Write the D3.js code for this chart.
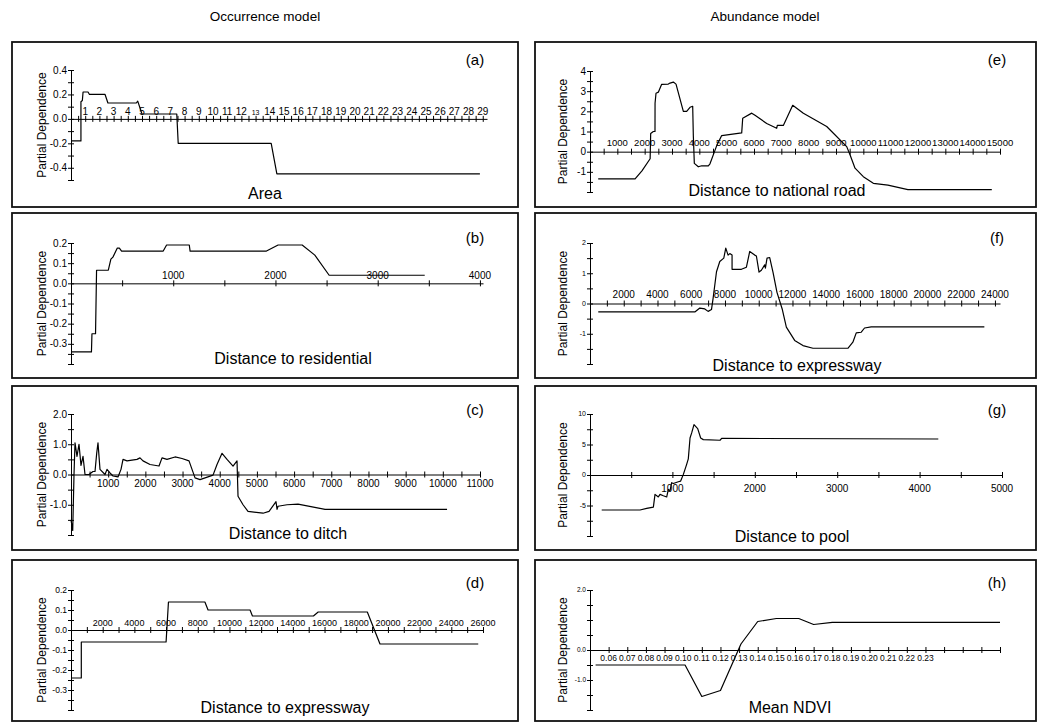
<!DOCTYPE html>
<html>
<head>
<meta charset="utf-8">
<script src="https://cdn.jsdelivr.net/npm/d3@7"></script>
<style>
  body { margin: 0; background: #fff; }
  svg { font-family: "Liberation Sans", Arial, sans-serif; }
</style>
</head>
<body>
<svg id="chart" width="1048" height="723"></svg>
<script>
// ---- data ----
const columnTitles = ["Occurrence model", "Abundance model"];
const yTitle = "Partial Dependence";

// (a) Area
const areaX = [0, 0.7, 0.7, 0.8, 0.85, 1.2, 1.3, 2.4, 2.6, 4.6, 4.7, 5.0, 7.45, 7.55, 14.1, 14.5, 28.8];
const areaY = [-0.18, -0.18, 0.14, 0.15, 0.22, 0.22, 0.20, 0.20, 0.13, 0.13, 0.145, 0.04, 0.04, -0.20, -0.20, -0.45, -0.45];
const areaTicks = d3.range(1, 30);

// (b) Distance to residential
const resX = [0, 200, 205, 240, 250, 365, 390, 410, 453, 473, 495, 902, 935, 1157, 1165, 1912, 2026, 2261, 2385, 2525, 3460];
const resY = [-0.34, -0.34, -0.25, -0.25, 0.065, 0.065, 0.12, 0.13, 0.175, 0.175, 0.16, 0.16, 0.19, 0.19, 0.16, 0.16, 0.19, 0.19, 0.14, 0.04, 0.04];
const resTicks = [1000, 2000, 3000, 4000];

// (c) Distance to ditch
const ditchX = [0, 46, 81, 108, 161, 215, 269, 323, 377, 484, 592, 646, 691, 726, 780, 915, 968, 1049, 1130, 1264, 1345, 1399, 1506, 1775, 1856, 1937, 2125, 2367, 2448, 2582, 2798, 2986, 3174, 3336, 3470, 3820, 3927, 4062, 4196, 4358, 4465, 4492, 4627, 4761, 5165, 5326, 5514, 5541, 5568, 5810, 6106, 6833, 10114];
const ditchY = [-1.5, -1.85, 0.0, 1.05, 0.6, 1.0, 0.3, 0.6, 0.0, 0.0, 0.1, 0.1, 0.7, 1.05, 0.17, 0.0, 0.17, 0.05, -0.05, -0.08, 0.17, 0.5, 0.45, 0.5, 0.55, 0.45, 0.33, 0.28, 0.55, 0.5, 0.58, 0.53, 0.45, -0.11, -0.17, -0.02, 0.33, 0.7, 0.5, 0.28, 0.45, -0.72, -1.0, -1.22, -1.28, -1.22, -0.9, -1.15, -1.05, -1.0, -0.98, -1.15, -1.15];
const ditchTicks = d3.range(1000, 11001, 1000);

// (d) Distance to expressway (occurrence)
const expOccX = [0, 650, 650, 6000, 6150, 8450, 8650, 11300, 11450, 15300, 15600, 18700, 19500, 25700];
const expOccY = [-0.24, -0.24, -0.06, -0.06, 0.14, 0.14, 0.10, 0.10, 0.07, 0.07, 0.09, 0.09, -0.07, -0.07];
const expOccTicks = d3.range(2000, 26001, 2000);

// (e) Distance to national road
const natX = [300, 1650, 1900, 2200, 2220, 2317, 2378, 2380, 2415, 2500, 2622, 2866, 2927, 3049, 3147, 3415, 3537, 3659, 3757, 3780, 3817, 3963, 4086, 4329, 4390, 4636, 4818, 5550, 5587, 5917, 6037, 6465, 6830, 6853, 7073, 7416, 7806, 8660, 9392, 9513, 9696, 10000, 10366, 10900, 11630, 14700];
const natY = [-1.35, -1.35, -0.95, -0.35, 0.9, 1.0, 1.0, 2.4, 2.9, 2.95, 3.34, 3.35, 3.4, 3.45, 3.35, 2.0, 2.0, 2.2, 2.25, 0.8, -0.58, -0.75, -0.7, -0.7, -0.6, 0.3, 0.8, 0.93, 1.66, 1.91, 1.8, 1.4, 1.16, 1.3, 1.3, 2.3, 1.9, 1.25, 0.25, -0.15, -0.82, -1.24, -1.57, -1.66, -1.88, -1.88];
const natTicks = d3.range(1000, 15001, 1000);

// (f) Distance to expressway (abundance)
const expAbX = [490, 6213, 6509, 6805, 7000, 7200, 7296, 7497, 7692, 7929, 8047, 8183, 8284, 8420, 8420, 8974, 9270, 9467, 9763, 9862, 10018, 10158, 10355, 10395, 10493, 10651, 10848, 11082, 11400, 11637, 12130, 12623, 13215, 15284, 15580, 15780, 16076, 16272, 16667, 23373];
const expAbY = [-0.28, -0.28, -0.15, -0.18, -0.26, -0.2, 0.17, 1.05, 1.39, 1.5, 1.83, 1.6, 1.65, 1.6, 1.13, 1.13, 1.2, 1.72, 1.6, 1.57, 1.04, 1.1, 1.28, 1.17, 1.5, 1.52, 1.03, 0.37, -0.2, -0.78, -1.22, -1.39, -1.48, -1.48, -1.28, -0.97, -0.95, -0.81, -0.77, -0.77];
const expAbTicks = d3.range(2000, 24001, 2000);

// (g) Distance to pool
const poolX = [142, 607, 688, 769, 789, 829, 850, 890, 931, 951, 971, 991, 1011, 1072, 1100, 1133, 1173, 1193, 1214, 1234, 1262, 1307, 1343, 1375, 1578, 1598, 4227];
const poolY = [-5.74, -5.74, -5.47, -5.26, -3.18, -3.6, -3.18, -3.4, -3.6, -2.36, -2.6, -1.26, -1.4, -1.1, -1.0, 0.1, 1.75, 2.65, 6.06, 6.9, 8.25, 7.6, 6.06, 5.8, 5.7, 6.0, 5.9];
const poolTicks = [1000, 2000, 3000, 4000, 5000];

// (h) Mean NDVI
const ndviX = [0.053, 0.101, 0.110, 0.120, 0.131, 0.140, 0.150, 0.162, 0.170, 0.180, 0.270];
const ndviY = [-0.5, -0.5, -1.55, -1.35, 0.2, 0.95, 1.05, 1.05, 0.85, 0.92, 0.92];
const ndviTicks = d3.range(6, 24).map(i => i / 100);

// ---- layout ----
const LEFT = { x: 12, w: 506, axis: 71, label: 475, ytitle: 42 };
const RIGHT = { x: 535, w: 501, axis: 590, label: 997, ytitle: 563 };

const panels = [
  { col: LEFT, top: 42, h: 165, tag: "(a)", tagY: 60, title: "Area", titleX: 265, titleY: 199,
    xs: areaX, ys: areaY, xDomain: [0, 29.3], xEnd: 487, xStep: 0.5, xLabels: areaTicks, xFmt: d3.format("d"),
    xFont: 10, xOff: -4, small: [13],
    yDomain: [-0.5, 0.4], yRange: [180, 70], yStep: 0.1, yLabels: [0.4, 0.2, 0, -0.2, -0.4], yFmt: ".1f", yFont: 10 },
  { col: LEFT, top: 213, h: 165, tag: "(b)", tagY: 238, title: "Distance to residential", titleX: 293, titleY: 364,
    xs: resX, ys: resY, xDomain: [0, 4030], xEnd: 483, xStep: 500, xLabels: resTicks, xFmt: d3.format("d"),
    xFont: 10, xOff: -4,
    yDomain: [-0.4, 0.2], yRange: [364, 243], yStep: 0.05, yLabels: [0.2, 0.1, 0, -0.1, -0.2, -0.3], yFmt: ".1f", yFont: 10 },
  { col: LEFT, top: 386, h: 164, tag: "(c)", tagY: 410, title: "Distance to ditch", titleX: 288, titleY: 539,
    xs: ditchX, ys: ditchY, xDomain: [0, 11000], xEnd: 480, xStep: 500, xLabels: ditchTicks, xFmt: d3.format("d"),
    xFont: 10, xOff: 12,
    yDomain: [-2, 2], yRange: [535, 414], yStep: 0.5, yLabels: [2, 1, 0, -1], yFmt: ".1f", yFont: 10 },
  { col: LEFT, top: 560, h: 161, tag: "(d)", tagY: 583, title: "Distance to expressway", titleX: 285, titleY: 713,
    xs: expOccX, ys: expOccY, xDomain: [0, 26000], xEnd: 483, xStep: 1000, xLabels: expOccTicks, xFmt: d3.format("d"),
    xFont: 9, xOff: -4,
    yDomain: [-0.4, 0.2], yRange: [710, 590], yStep: 0.05, yLabels: [0.2, 0.1, 0, -0.1, -0.2, -0.3], yFmt: ".1f", yFont: 8.5 },
  { col: RIGHT, top: 42, h: 165, tag: "(e)", tagY: 60, title: "Distance to national road", titleX: 777, titleY: 196,
    xs: natX, ys: natY, xDomain: [0, 15000], xEnd: 1000, xStep: 500, xLabels: natTicks, xFmt: d3.format("d"),
    xFont: 9.5, xOff: -6,
    yDomain: [-2, 4], yRange: [192, 71], yStep: 0.5, yLabels: [4, 3, 2, 1, 0, -1], yFmt: "d", yFont: 10 },
  { col: RIGHT, top: 213, h: 165, tag: "(f)", tagY: 238, title: "Distance to expressway", titleX: 797, titleY: 371,
    xs: expAbX, ys: expAbY, xDomain: [0, 24300], xEnd: 1000, xStep: 1000, xLabels: expAbTicks, xFmt: d3.format("d"),
    xFont: 10, xOff: -6,
    yDomain: [-2, 2], yRange: [364, 243], yStep: 0.5, yLabels: [2, 1, 0, -1], yFmt: "d", yFont: 7 },
  { col: RIGHT, top: 386, h: 164, tag: "(g)", tagY: 410, title: "Distance to pool", titleX: 792, titleY: 542,
    xs: poolX, ys: poolY, xDomain: [0, 5000], xEnd: 1002, xStep: 500, xLabels: poolTicks, xFmt: d3.format("d"),
    xFont: 10, xOff: 17,
    yDomain: [-10, 10], yRange: [536, 414], yStep: 2.5, yLabels: [10, 5, 0, -5], yFmt: "d", yFont: 7 },
  { col: RIGHT, top: 560, h: 161, tag: "(h)", tagY: 583, title: "Mean NDVI", titleX: 790, titleY: 713,
    xs: ndviX, ys: ndviY, xDomain: [0.05, 0.27], xEnd: 1000, xStep: 0.01, xLabels: ndviTicks, xFmt: d3.format(".2f"),
    xFont: 8.5, xOff: 11,
    yDomain: [-2, 2], yRange: [710, 590], yStep: 0.5, yLabels: [2, 0, -1], yFmt: ".1f", yFont: 6.5 }
];

const svg = d3.select("#chart");

// column headings
svg.selectAll("text.col")
  .data(columnTitles)
  .join("text")
  .attr("class", "col")
  .attr("x", (d, i) => i === 0 ? 265 : 765)
  .attr("y", 21)
  .attr("text-anchor", "middle")
  .style("font-size", "13.5px")
  .text(d => d);

function steps(lo, hi, step) {
  const a = Math.ceil(lo / step - 1e-6), b = Math.floor(hi / step + 1e-6);
  return d3.range(a, b + 1).map(i => +(i * step).toFixed(6));
}

const minus = s => s.replace("\u2212", "-");

panels.forEach(p => {
  const g = svg.append("g");
  const c = p.col;

  g.append("rect")
    .attr("x", c.x).attr("y", p.top)
    .attr("width", c.w).attr("height", p.h)
    .attr("fill", "none")
    .attr("stroke", "#111")
    .attr("stroke-width", 1.8);

  const x = d3.scaleLinear().domain(p.xDomain).range([c.axis, p.xEnd]);
  const y = d3.scaleLinear().domain(p.yDomain).range(p.yRange);

  // x axis through zero, ticks crossing the line
  const xAxis = d3.axisBottom(x)
    .tickValues(steps(p.xDomain[0], p.xDomain[1], p.xStep).filter(v => v > p.xDomain[0]))
    .tickFormat("")
    .tickSizeOuter(0);
  g.append("g")
    .attr("transform", `translate(0,${y(0)})`)
    .call(xAxis)
    .call(a => a.selectAll(".tick line").attr("y1", -3).attr("y2", 3).attr("stroke", "#000"))
    .call(a => a.select(".domain").attr("stroke", "#000"));

  const yAxis = d3.axisLeft(y)
    .tickValues(steps(p.yDomain[0], p.yDomain[1], p.yStep))
    .tickFormat("")
    .tickSizeOuter(0);
  g.append("g")
    .attr("transform", `translate(${c.axis},0)`)
    .call(yAxis)
    .call(a => a.selectAll(".tick line").attr("x1", -3).attr("x2", 3).attr("stroke", "#000"))
    .call(a => a.select(".domain").attr("stroke", "#000"));

  // tick labels
  g.selectAll("text.xl")
    .data(p.xLabels)
    .join("text")
    .attr("class", "xl")
    .attr("x", d => x(d))
    .attr("y", y(0) + p.xOff)
    .attr("text-anchor", "middle")
    .style("font-size", d => (p.small && p.small.includes(d) ? 7 : p.xFont) + "px")
    .text(d => p.xFmt(d));

  const yf = d3.format(p.yFmt);
  g.selectAll("text.yl")
    .data(p.yLabels)
    .join("text")
    .attr("class", "yl")
    .attr("x", c.axis - 4)
    .attr("y", d => y(d))
    .attr("dy", "0.35em")
    .attr("text-anchor", "end")
    .style("font-size", p.yFont + "px")
    .text(d => minus(yf(d)));

  // axis titles
  const ymid = (p.yRange[0] + p.yRange[1]) / 2;
  g.append("text")
    .attr("transform", `translate(${c.ytitle},${ymid}) rotate(-90)`)
    .attr("dy", "0.35em")
    .attr("text-anchor", "middle")
    .style("font-size", "12px")
    .text(yTitle);

  g.append("text")
    .attr("x", p.titleX).attr("y", p.titleY)
    .attr("text-anchor", "middle")
    .style("font-size", "16px")
    .text(p.title);

  g.append("text")
    .attr("x", c.label).attr("y", p.tagY)
    .attr("dy", "0.35em")
    .attr("text-anchor", "middle")
    .style("font-size", "15px")
    .text(p.tag);

  // dependence curve
  const line = d3.line().x(d => x(d[0])).y(d => y(d[1]));
  g.append("path")
    .datum(d3.zip(p.xs, p.ys))
    .attr("d", line)
    .attr("fill", "none")
    .attr("stroke", "#000")
    .attr("stroke-width", 1.2)
    .attr("stroke-linejoin", "round");
});
</script>
</body>
</html>
